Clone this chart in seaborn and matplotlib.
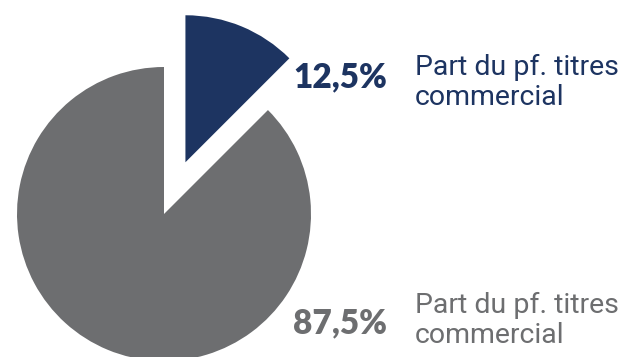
import matplotlib
matplotlib.use("Agg")
import matplotlib.pyplot as plt
import seaborn as sns

sns.set_theme(style="white")
plt.rcParams['font.family'] = ['Lato', 'DejaVu Sans']

categories = ["Part du pf. titres\ncommercial", "Part du pf. titres\ncommercial"]
values = [12.5, 87.5]
pct_labels = ["12,5%", "87,5%"]
colors = ["#1d3461", "#6d6e70"]

W, H = 627, 357
fig = plt.figure(figsize=(W / 100, H / 100), dpi=100)
ax = fig.add_axes([0, 0, 1, 1])

ax.pie(values, colors=colors, startangle=90, counterclock=False,
       center=(164, H - 214), radius=147, explode=[56, 0],
       wedgeprops=dict(linewidth=0), frame=True)
ax.set_xlim(0, W)
ax.set_ylim(0, H)
ax.set_aspect("equal")
ax.axis("off")

# label positions (pixel coords from top, baselines)
pct_pos = [(293, 87), (293, 333)]
lab_pos = [(415, 75), (415, 313)]
line_step = 30
for i in range(2):
    x, y = pct_pos[i]
    ax.text(x, H - y, pct_labels[i], color=colors[i], fontsize=24,
            fontweight="heavy", ha="left", va="baseline")
    x, y = lab_pos[i]
    for j, line in enumerate(categories[i].split("\n")):
        ax.text(x, H - (y + j * line_step), line, color=colors[i],
                fontsize=20.5, ha="left", va="baseline", family=["Roboto", "DejaVu Sans"])

fig.savefig("out.png", dpi=100)
